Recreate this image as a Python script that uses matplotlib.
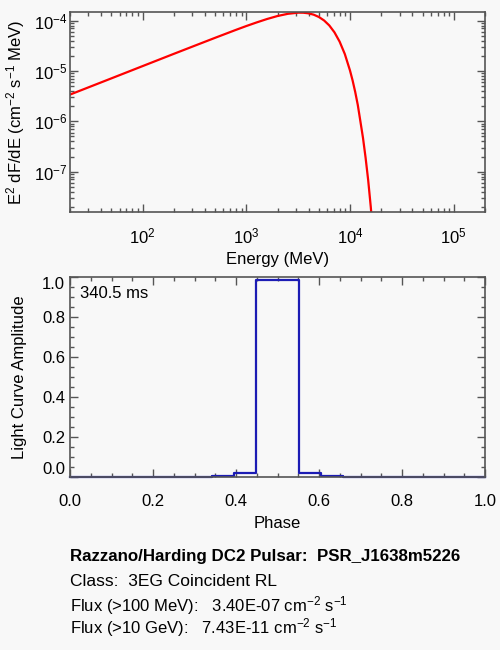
import numpy as np
import matplotlib
matplotlib.use("Agg")
import matplotlib.pyplot as plt
from matplotlib.ticker import LogLocator, MultipleLocator, NullFormatter, FormatStrFormatter

plt.rcParams["font.family"] = ["Liberation Sans", "DejaVu Sans"]
plt.rcParams["mathtext.default"] = "regular"

# --- spectrum ---
energy = [20, 50, 100, 200, 316, 500, 794, 1000, 1259, 1585, 1995, 2512,
          3162, 3548, 3981, 4467, 5012, 5623, 6310, 7079, 7943, 8913, 10000,
          10593, 11220, 11885, 12589, 13335, 14125, 14962, 15849, 16788]
e2dfde = [3.4e-6, 7.13e-6, 1.25e-5, 2.19e-5, 3.16e-5, 4.56e-5, 6.56e-5,
          7.82e-5, 9.23e-5, 1.079e-4, 1.236e-4, 1.368e-4, 1.443e-4, 1.439e-4,
          1.40e-4, 1.315e-4, 1.183e-4, 1.01e-4, 8.05e-5, 5.87e-5, 3.83e-5,
          2.17e-5, 1.02e-5, 6.47e-6, 3.84e-6, 2.11e-6, 1.0e-6, 4.7e-7,
          1.9e-7, 6.8e-8, 2.0e-8, 5.0e-9]

# --- light curve ---
phase = np.linspace(0.0, 1.0, 20)
amplitude = [0.0, 0.0, 0.0, 0.0, 0.0, 0.0, 0.001, 0.005, 0.02, 0.985,
             0.985, 0.02, 0.005, 0.001, 0.0, 0.0, 0.0, 0.0, 0.0, 0.0]

period_label = "340.5 ms"
info_lines = [
    "Razzano/Harding DC2 Pulsar:  PSR_J1638m5226",
    "Class:  3EG Coincident RL",
    "Flux (>100 MeV):   3.40E-07 cm$^{-2}$ s$^{-1}$",
    "Flux (>10 GeV):   7.43E-11 cm$^{-2}$ s$^{-1}$",
]

BG = "#f8f8f8"
AXC = "#555555"
FS = 12

fig = plt.figure(figsize=(5, 6.5), dpi=100, facecolor=BG)


def style_axes(ax):
    ax.set_facecolor(BG)
    for s in ax.spines.values():
        s.set_color(AXC)
        s.set_linewidth(1.2)
    ax.tick_params(which="both", direction="in", top=True, right=True,
                   colors=AXC, labelcolor="black", labelsize=FS)
    ax.tick_params(which="major", length=6, width=1.0)
    ax.tick_params(which="minor", length=3, width=1.0)


# --- top: spectrum ---
ax1 = fig.add_axes([0.14, 0.6734, 0.83, 0.3082])
style_axes(ax1)
ax1.plot(energy, e2dfde, color="#ff0000", lw=1.6)
ax1.set_xscale("log")
ax1.set_yscale("log")
ax1.set_xlim(20, 2e5)
ax1.set_ylim(1.56e-8, 1.49e-4)
ax1.xaxis.set_major_locator(LogLocator(base=10, numticks=10))
ax1.xaxis.set_minor_locator(LogLocator(base=10, subs=np.arange(2, 10), numticks=20))
ax1.xaxis.set_minor_formatter(NullFormatter())
ax1.set_yticks([1e-7, 1e-6, 1e-5, 1e-4])
ax1.yaxis.set_minor_locator(LogLocator(base=10, subs=np.arange(2, 10), numticks=20))
ax1.yaxis.set_minor_formatter(NullFormatter())
ax1.tick_params(axis="x", pad=10)
ax1.tick_params(axis="y", pad=2)
ax1.set_xlabel("Energy (MeV)", fontsize=FS, labelpad=4)
ax1.set_ylabel("E$^2$ dF/dE (cm$^{-2}$ s$^{-1}$ MeV)", fontsize=FS, labelpad=5)

# --- bottom: light curve ---
ax2 = fig.add_axes([0.14, 0.2657, 0.83, 0.3077])
style_axes(ax2)
ax2.step(phase, amplitude, where="mid", color="#1c1cb4", lw=1.6, clip_on=False)
ax2.set_xlim(0, 1)
ax2.set_ylim(0, 1)
ax2.set_xticks(np.arange(0, 1.01, 0.2))
ax2.set_yticks(np.arange(0, 1.01, 0.2))
ax2.xaxis.set_minor_locator(MultipleLocator(0.05))
ax2.yaxis.set_minor_locator(MultipleLocator(0.05))
ax2.xaxis.set_major_formatter(FormatStrFormatter("%.1f"))
ax2.yaxis.set_major_formatter(FormatStrFormatter("%.1f"))
ax2.tick_params(axis="x", pad=12)
ylabs = ax2.get_yticklabels()
ylabs[0].set_verticalalignment("bottom")
ylabs[-1].set_verticalalignment("top")
ax2.set_xlabel("Phase", fontsize=FS, labelpad=5)
ax2.set_ylabel("Light Curve Amplitude", fontsize=FS, labelpad=11)
ax2.text(0.024, 0.92, period_label, transform=ax2.transAxes, fontsize=FS,
         ha="left", va="center")

# --- info text ---
ys = [556.7, 581.7, 606, 627.5]
sizes = [12.2, 12.5, 12, 12]
for i, (line, y) in enumerate(zip(info_lines, ys)):
    fig.text(70 / 500, 1 - y / 650, line, fontsize=sizes[i],
             ha="left", va="center",
             fontweight="bold" if i == 0 else "normal")

fig.savefig("out.png", dpi=100, facecolor=BG)
